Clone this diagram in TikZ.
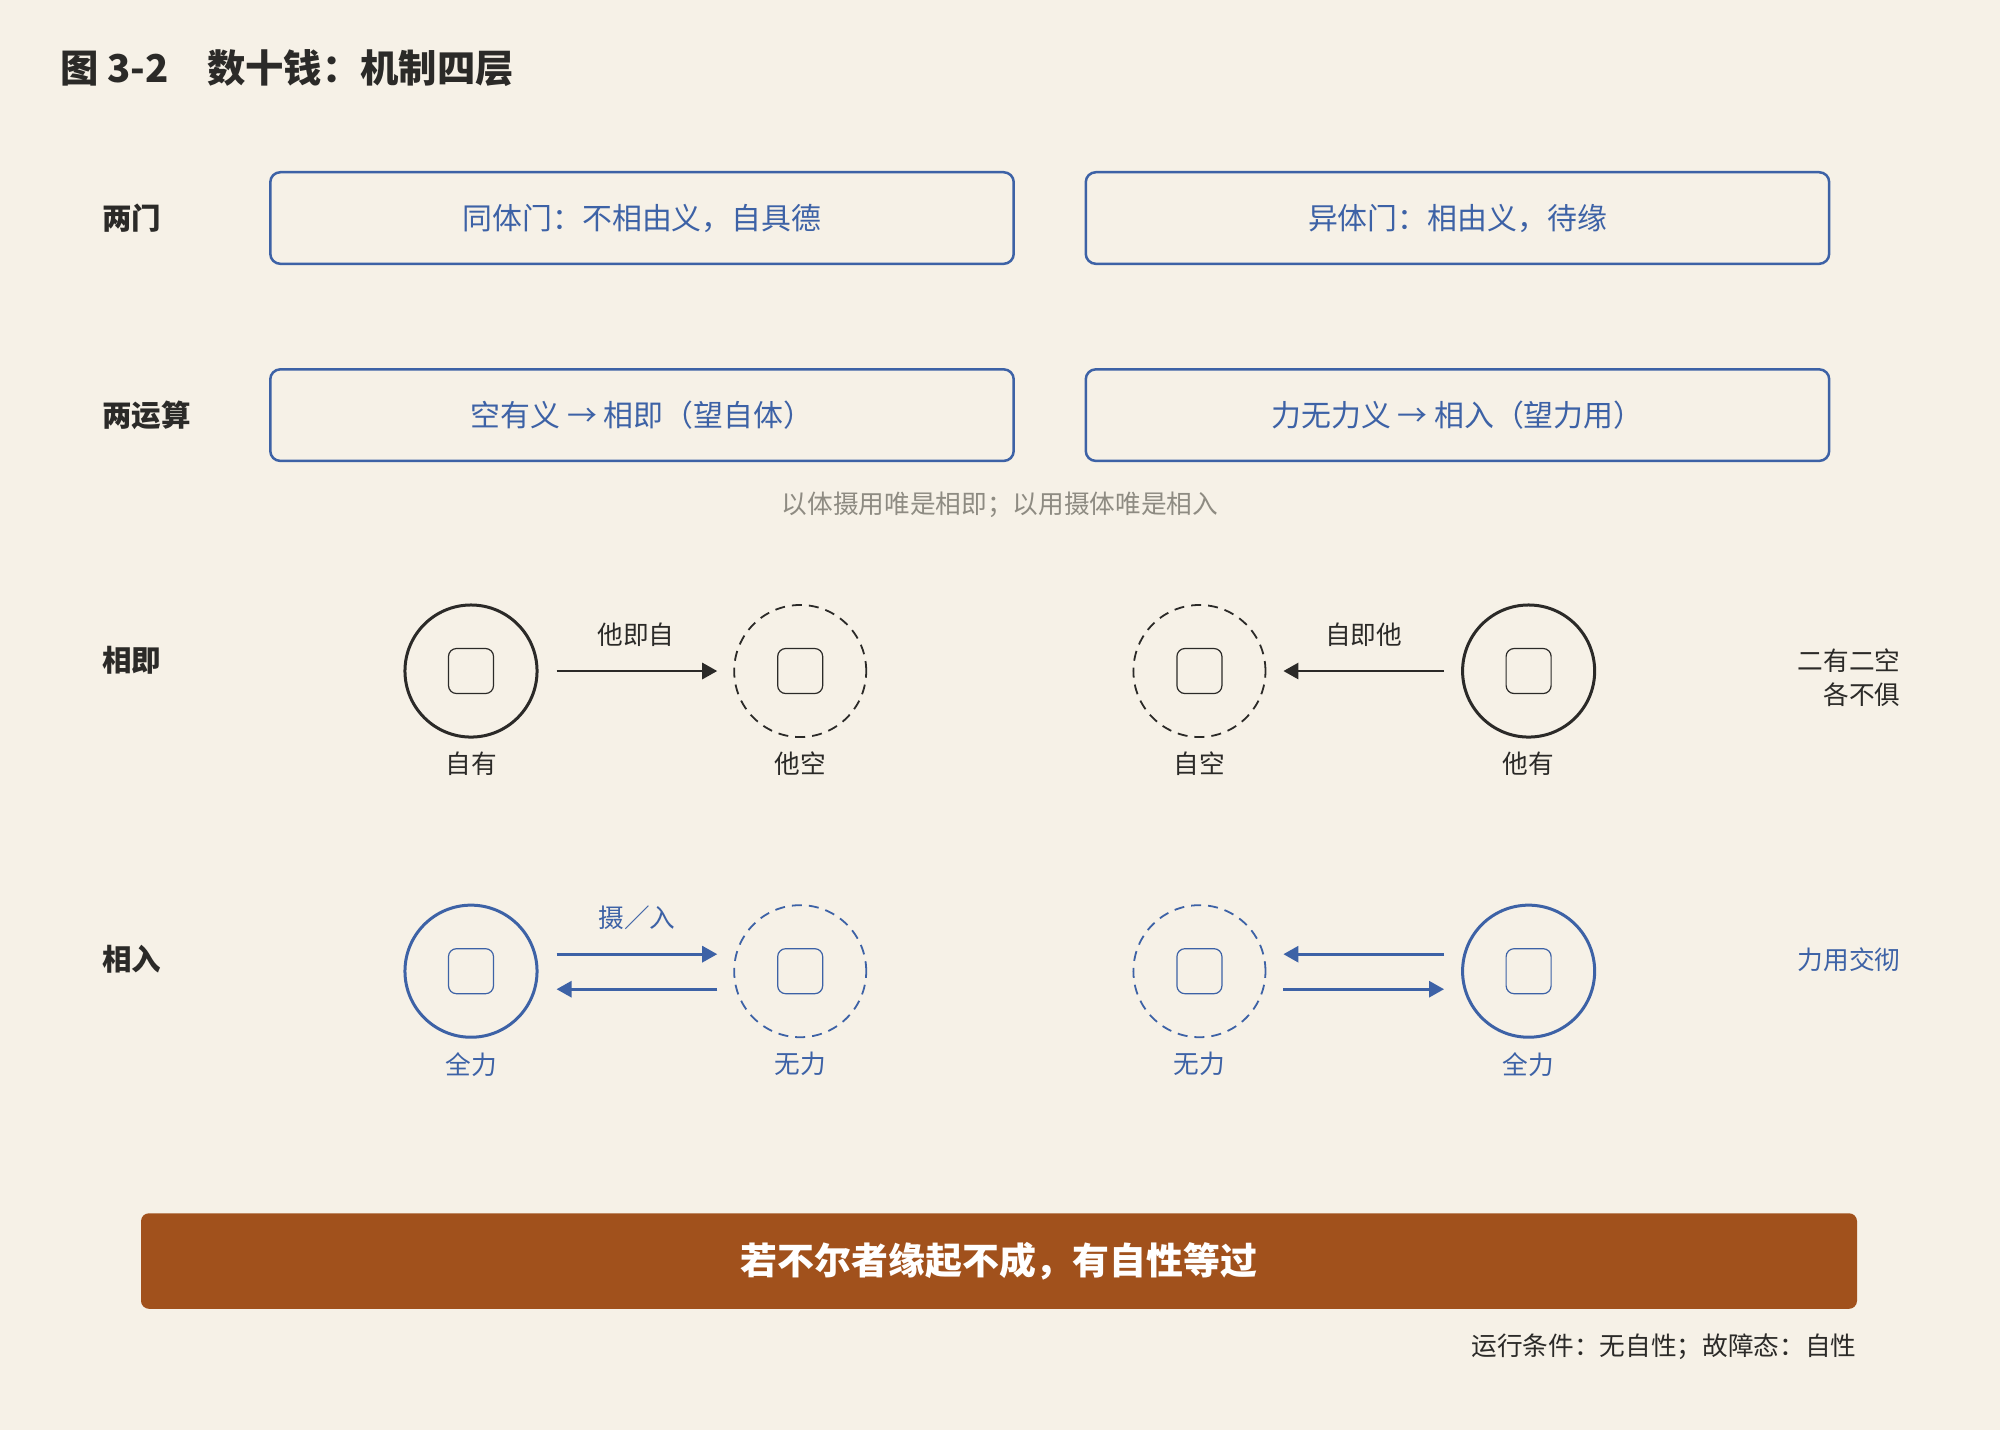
\documentclass[tikz,border=0pt]{standalone}
\usepackage{fontspec}
\setmainfont{Noto Sans CJK SC}
\usetikzlibrary{arrows.meta}
\definecolor{paper}{HTML}{F6F1E7}
\definecolor{ink}{HTML}{2B2A28}
\definecolor{steel}{HTML}{3D62A6}
\definecolor{rust}{HTML}{A1511C}
\definecolor{mist}{HTML}{8E8B82}

\begin{document}
\begin{tikzpicture}[x=0.01cm,y=-0.01cm,>={Triangle[length=0.15cm,width=0.16cm]},
  thick,
  row node/.style={font=\bfseries\fontsize{8.4}{10}\selectfont,text=ink,
    anchor=west,inner sep=0pt},
  door node/.style={rectangle,rounded corners=0.1cm,draw=steel,line width=0.025cm,
    minimum width=7.43cm,minimum height=0.915cm,text=steel,
    font=\fontsize{8.5}{10}\selectfont},
  coin node/.style={circle,draw,line width=0.03cm,minimum size=1.32cm,inner sep=0pt},
  void node/.style={circle,draw,line width=0.018cm,dash pattern=on 0.1cm off 0.07cm,
    minimum size=1.32cm,inner sep=0pt},
  hole node/.style={rectangle,rounded corners=0.08cm,draw,line width=0.012cm,
    minimum size=0.45cm,inner sep=0pt},
  note node/.style={font=\fontsize{7.3}{9.7}\selectfont,inner sep=0pt}]

  \useasboundingbox (0,0) rectangle (2000,1429);
  \fill[paper] (-10,-10) rectangle (2010,1439);

  \node[row node,font=\bfseries\fontsize{10.9}{13}\selectfont] (TITLE) at (59,68) {图 3-2　数十钱：机制四层};

  \node[row node] (MEN) at (101,218) {两门};
  \node[row node] (YUNSUAN) at (101,415) {两运算};
  \node[row node] (XIANGJI) at (101,660) {相即};
  \node[row node] (XIANGRU) at (101,959) {相入};

  \node[door node] (TONGTI) at (642,218) {同体门：不相由义，自具德};
  \node[door node] (YITI) [node distance=8.15cm, right of=TONGTI] {异体门：相由义，待缘};
  \node[door node] (KONGYOU) [node distance=1.97cm, below of=TONGTI] {空有义 → 相即（望自体）};
  \node[door node] (LIYONG) [node distance=8.15cm, right of=KONGYOU] {力无力义 → 相入（望力用）};
  \node[note node,text=mist] (SHE) at (1000,505) {以体摄用唯是相即；以用摄体唯是相入};

  \node[coin node,draw=ink] (ZIYOU) at (471,671) {};
  \node[void node,draw=ink] (TAKONG) [node distance=3.29cm, right of=ZIYOU] {};
  \node[void node,draw=ink] (ZIKONG) [node distance=7.28cm, right of=ZIYOU] {};
  \node[coin node,draw=ink] (TAYOU) [node distance=10.57cm, right of=ZIYOU] {};
  \node[coin node,draw=steel] (QUANLI) [node distance=3cm, below of=ZIYOU] {};
  \node[void node,draw=steel] (WULI) [node distance=3cm, below of=TAKONG] {};
  \node[void node,draw=steel] (WULIB) [node distance=3cm, below of=ZIKONG] {};
  \node[coin node,draw=steel] (QUANLIB) [node distance=3cm, below of=TAYOU] {};

  \foreach \c/\col in {ZIYOU/ink,TAKONG/ink,ZIKONG/ink,TAYOU/ink,
      QUANLI/steel,WULI/steel,WULIB/steel,QUANLIB/steel}
    \node[hole node,draw=\col] (\c HOLE) at (\c) {};

  \node[note node,text=ink] (ZIYOUNAME) [node distance=0.93cm, below of=ZIYOU] {自有};
  \node[note node,text=ink] (TAKONGNAME) [node distance=0.93cm, below of=TAKONG] {他空};
  \node[note node,text=ink] (ZIKONGNAME) [node distance=0.93cm, below of=ZIKONG] {自空};
  \node[note node,text=ink] (TAYOUNAME) [node distance=0.93cm, below of=TAYOU] {他有};
  \node[note node,text=steel] (QUANLINAME) [node distance=0.93cm, below of=QUANLI] {全力};
  \node[note node,text=steel] (WULINAME) [node distance=0.93cm, below of=WULI] {无力};
  \node[note node,text=steel] (WULIBNAME) [node distance=0.93cm, below of=WULIB] {无力};
  \node[note node,text=steel] (QUANLIBNAME) [node distance=0.93cm, below of=QUANLIB] {全力};

  \path[->,line width=0.028cm,every node/.style={note node}]
    (ZIYOU) edge[draw=ink,shorten <=0.18cm,shorten >=0.16cm]
      node[text=ink,above=0.235cm] {他即自} (TAKONG)
    (TAYOU) edge[draw=ink,shorten <=0.17cm,shorten >=0.17cm]
      node[text=ink,above=0.235cm] {自即他} (ZIKONG);

  \draw[->,steel,line width=0.028cm]
    ([xshift=0.18cm,yshift=0.17cm]QUANLI.east) -- ([xshift=-0.16cm,yshift=0.17cm]WULI.west)
      node[note node,midway,above=0.235cm] {摄／入};
  \draw[->,steel,line width=0.028cm]
    ([xshift=-0.16cm,yshift=-0.18cm]WULI.west) -- ([xshift=0.18cm,yshift=-0.18cm]QUANLI.east);
  \draw[->,steel,line width=0.028cm]
    ([xshift=-0.17cm,yshift=0.17cm]QUANLIB.west) -- ([xshift=0.17cm,yshift=0.17cm]WULIB.east);
  \draw[->,steel,line width=0.028cm]
    ([xshift=0.17cm,yshift=-0.18cm]WULIB.east) -- ([xshift=-0.17cm,yshift=-0.18cm]QUANLIB.west);

  \node[note node,text=ink,anchor=east,align=right] (ERYOU) at (1902,678) {二有二空\\各不俱};
  \node[note node,text=steel,anchor=east] (JIAOCHE) at (1902,960) {力用交彻};

  \node[rectangle,rounded corners=0.08cm,fill=rust,minimum width=17.15cm,
    minimum height=0.955cm,text=white,font=\bfseries\fontsize{10.5}{12}\selectfont]
    (GUO) at (999,1261) {若不尔者缘起不成，有自性等过};
  \node[note node,text=ink,anchor=east] (TIAOJIAN) at (1858,1347) {运行条件：无自性；故障态：自性};
\end{tikzpicture}
\end{document}
